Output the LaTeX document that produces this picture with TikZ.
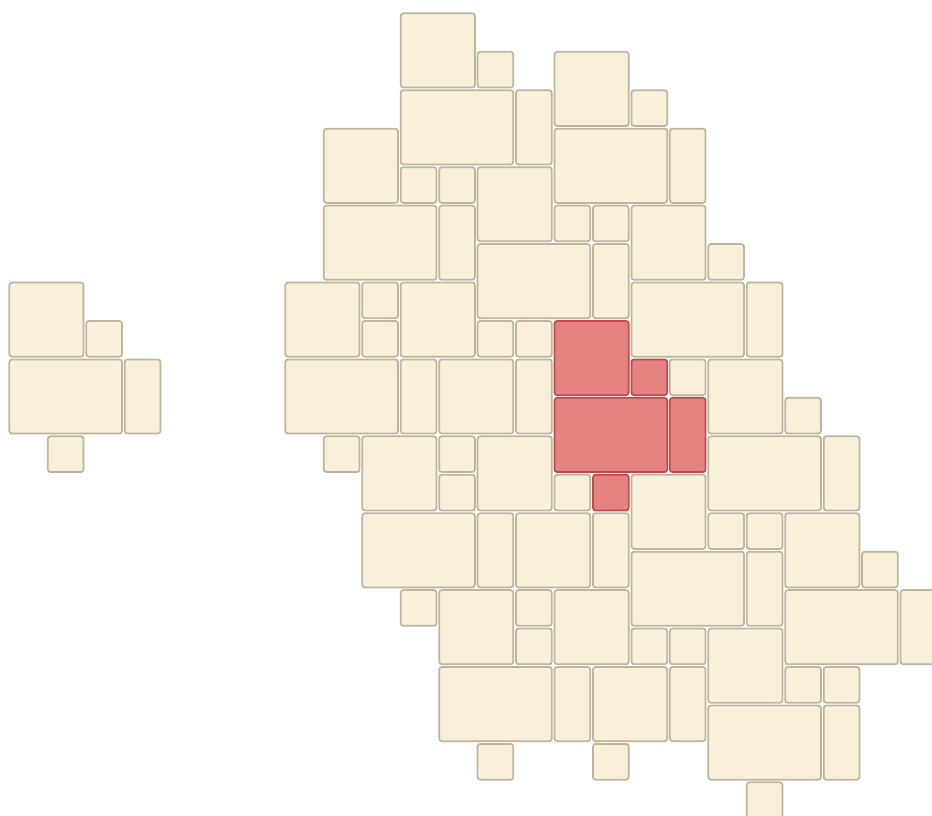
\documentclass[tikz,border=0pt]{standalone}
\usepackage{tikz}
\definecolor{stone}{RGB}{248,240,216}
\definecolor{stoneedge}{RGB}{190,180,160}
\definecolor{hilite}{RGB}{229,130,130}
\definecolor{hiliteedge}{RGB}{196,74,74}

\begin{document}
\begin{tikzpicture}[
    tile/.style={fill=stone, draw=stoneedge, line width=1.3pt, rounded corners=2pt},
    hottile/.style={fill=hilite, draw=hiliteedge, line width=1.3pt, rounded corners=2pt}]
    \useasboundingbox (0,0) rectangle (24.239,-21.222);
    % loose module on the left
    \begin{scope}[shift={(0.208,-7.312)}, yscale=-1]
      \foreach \c/\r/\w/\h in {0/0/2/2, 2/1/1/1, 0/2/3/2, 3/2/1/2, 1/4/1/1}
        \draw[tile] (\c+0.035,\r+0.035) rectangle (\c+\w-0.035,\r+\h-0.035);
    \end{scope}
    % main field
    \begin{scope}[shift={(7.386,-0.312)}, yscale=-1]
      \foreach \c/\r/\w/\h in {3/0/2/2, 5/1/1/1, 7/1/2/2, 9/2/1/1, 3/2/3/2, 6/2/1/2,
          7/3/3/2, 10/3/1/2, 1/3/2/2, 3/4/1/1, 4/4/1/1, 5/4/2/2, 7/5/1/1, 8/5/1/1,
          9/5/2/2, 11/6/1/1, 1/5/3/2, 4/5/1/2, 5/6/3/2, 8/6/1/2,
          0/7/2/2, 2/7/1/1, 2/8/1/1, 3/7/2/2, 5/8/1/1, 6/8/1/1, 9/7/3/2, 12/7/1/2,
          10/9/1/1, 11/9/2/2, 13/10/1/1, 0/9/3/2, 3/9/1/2, 4/9/2/2, 6/9/1/2,
          11/11/3/2, 14/11/1/2, 1/11/1/1, 2/11/2/2, 4/11/1/1, 4/12/1/1, 5/11/2/2,
          7/12/1/1, 9/12/2/2,
          2/13/3/2, 5/13/1/2, 6/13/2/2, 8/13/1/2, 11/13/1/1, 12/13/1/1, 13/13/2/2,
          9/14/3/2, 12/14/1/2, 15/14/1/1, 3/15/1/1, 4/15/2/2, 6/15/1/1, 6/16/1/1,
          7/15/2/2, 9/16/1/1, 10/16/1/1, 11/16/2/2, 13/15/3/2, 16/15/1/2,
          4/17/3/2, 7/17/1/2, 8/17/2/2, 10/17/1/2, 13/17/1/1, 14/17/1/1,
          11/18/3/2, 14/18/1/2, 5/19/1/1, 8/19/1/1, 12/20/1/1}
        \draw[tile] (\c+0.035,\r+0.035) rectangle (\c+\w-0.035,\r+\h-0.035);
      % highlighted module
      \foreach \c/\r/\w/\h in {7/8/2/2, 9/9/1/1, 7/10/3/2, 10/10/1/2, 8/12/1/1}
        \draw[hottile] (\c+0.035,\r+0.035) rectangle (\c+\w-0.035,\r+\h-0.035);
    \end{scope}
\end{tikzpicture}
\end{document}
